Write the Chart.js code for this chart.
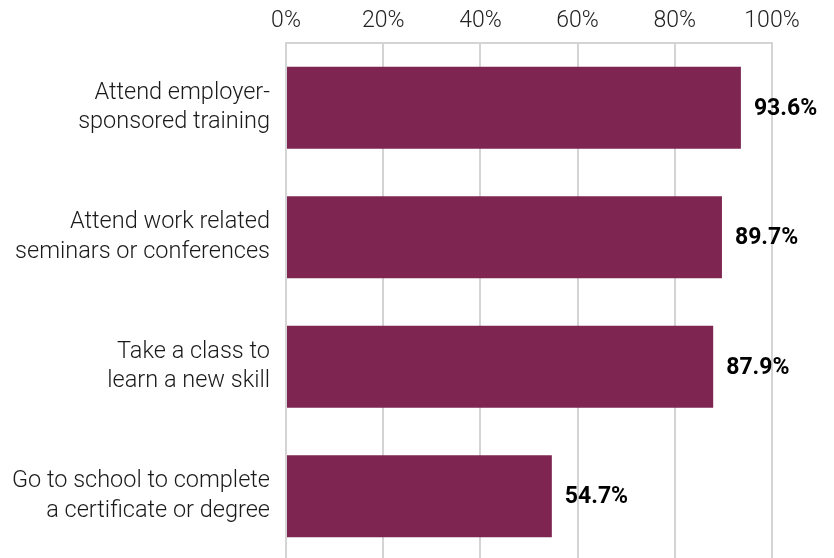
<!DOCTYPE html>
<html>
<head>
<meta charset="utf-8">
<script src="https://cdn.jsdelivr.net/npm/chart.js@4/dist/chart.umd.min.js"></script>
<style>
    html, body { margin: 0; padding: 0; background: #fff; overflow: hidden; }
    #wrap { width: 834px; height: 561px; position: relative; }
</style>
</head>
<body>
<div id="wrap"><canvas id="chart"></canvas></div>
<script>
// Dati del grafico
const categories = [
    ['Attend employer-', 'sponsored training'],
    ['Attend work related', 'seminars or conferences'],
    ['Take a class to', 'learn a new skill'],
    ['Go to school to complete', 'a certificate or degree']
];
const values = [93.6, 89.7, 87.9, 54.7];
const xTicks = [0, 20, 40, 60, 80, 100];

const barColor = '#7E2651';
const gridColor = '#d4d4d4';

// Etichette dei valori a destra delle barre
const valueLabels = {
    id: 'valueLabels',
    afterDatasetsDraw(chart) {
        const ctx = chart.ctx;
        const meta = chart.getDatasetMeta(0);
        ctx.save();
        ctx.font = 'bold 23px Roboto';
        ctx.fillStyle = '#000';
        ctx.textAlign = 'left';
        ctx.textBaseline = 'middle';
        meta.data.forEach((bar, i) => {
            ctx.fillText(values[i].toFixed(1) + '%', bar.x + 13, bar.y + 1);
        });
        ctx.restore();
    }
};

new Chart(document.getElementById('chart'), {
    type: 'bar',
    data: {
        labels: categories,
        datasets: [{
            data: values,
            backgroundColor: barColor,
            borderWidth: 0,
            categoryPercentage: 0.635,
            barPercentage: 1
        }]
    },
    options: {
        indexAxis: 'y',
        responsive: true,
        maintainAspectRatio: false,
        animation: false,
        layout: { padding: { left: 0, right: 62, top: 0, bottom: 0 } },
        plugins: {
            legend: { display: false },
            tooltip: { enabled: false }
        },
        scales: {
            x: {
                position: 'top',
                min: 0,
                max: 100,
                afterBuildTicks: (scale) => {
                    scale.ticks = xTicks.map(v => ({ value: v }));
                },
                afterFit: (scale) => { scale.height = 43; },
                grid: { color: gridColor, lineWidth: 2, drawTicks: false },
                border: { display: true, color: gridColor, width: 2 },
                ticks: {
                    padding: 8,
                    color: '#222',
                    font: { family: 'Roboto', size: 23, weight: 300 },
                    callback: (v) => v + '%'
                }
            },
            y: {
                afterFit: (scale) => {
                    scale.width = 286;
                    scale.paddingTop = 0;
                    scale.paddingBottom = 0;
                },
                grid: { display: false, drawTicks: false },
                border: { display: true, color: gridColor, width: 2 },
                ticks: {
                    padding: 16,
                    color: '#1a1a1a',
                    font: { family: 'Roboto', size: 23.5, weight: 300, lineHeight: 1.25 }
                }
            }
        }
    },
    plugins: [valueLabels]
});
</script>
</body>
</html>
